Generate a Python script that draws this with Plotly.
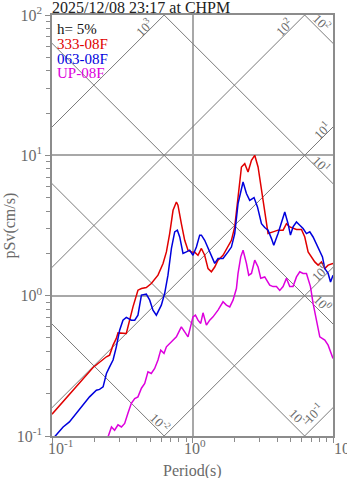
import math
import plotly.graph_objects as go

title_text = "2025/12/08 23:17 at CHPM"
damping_label = "h= 5%"
series_names = ["333-08F", "063-08F", "UP-08F"]
series_colors = ["#e00000", "#0000dd", "#dd00dd"]

red_T = [0.100, 0.196, 0.244, 0.257, 0.272, 0.287, 0.295, 0.320, 0.338, 0.377, 0.409, 0.433,
         0.469, 0.509, 0.568, 0.617, 0.652, 0.688, 0.727, 0.768, 0.788, 0.833, 0.880, 0.929,
         0.982, 1.037, 1.094, 1.157, 1.221, 1.290, 1.363, 1.439, 1.519, 1.649, 1.790, 1.892,
         1.998, 2.109, 2.230, 2.354, 2.485, 2.628, 2.773, 2.929, 3.096, 3.267, 3.450, 3.743,
         4.063, 4.413, 4.663, 4.922, 5.195, 5.495, 5.966, 6.297, 6.650, 7.028, 7.419, 7.834,
         8.281, 8.743, 9.233, 10.0]
red_S = [0.143, 0.308, 0.367, 0.377, 0.444, 0.496, 0.543, 0.543, 0.538, 0.832, 1.094, 1.125,
         1.144, 1.221, 1.40, 1.695, 2.05, 2.77, 4.06, 4.65, 4.41, 3.26, 2.48, 2.11,
         2.05, 2.04, 1.94, 2.17, 1.94, 1.56, 1.48, 1.60, 1.79, 1.94, 2.22, 2.48,
         3.09, 4.78, 8.26, 8.73, 7.60, 9.21, 10.0, 8.26, 5.63, 3.85, 2.77, 2.85,
         2.93, 2.93, 3.26, 3.09, 3.01, 2.96, 2.96, 2.62, 2.05, 1.89, 1.74, 1.65,
         1.74, 1.56, 1.65, 1.70]

blue_T = [0.100, 0.107, 0.120, 0.133, 0.149, 0.166, 0.185, 0.207, 0.218, 0.231, 0.244, 0.257,
          0.272, 0.287, 0.303, 0.320, 0.338, 0.367, 0.388, 0.409, 0.433, 0.469, 0.496, 0.523,
          0.553, 0.600, 0.634, 0.669, 0.708, 0.747, 0.780, 0.811, 0.856, 0.905, 0.955, 1.008,
          1.066, 1.125, 1.157, 1.221, 1.290, 1.363, 1.439, 1.519, 1.649, 1.790, 1.892, 1.998,
          2.109, 2.290, 2.420, 2.554, 2.741, 2.900, 3.096, 3.267, 3.450, 3.648, 3.787, 4.063,
          4.297, 4.537, 4.786, 4.979, 5.195, 5.495, 5.803, 6.124, 6.474, 6.835, 7.216, 7.628,
          8.054, 8.415, 8.743, 9.233, 9.601, 10.0]
blue_S = [0.094, 0.102, 0.116, 0.126, 0.145, 0.166, 0.190, 0.212, 0.215, 0.224, 0.279, 0.311,
          0.348, 0.432, 0.568, 0.669, 0.700, 0.669, 0.669, 0.726, 1.01, 1.025, 0.929, 0.789,
          0.726, 0.856, 1.04, 1.40, 2.17, 2.85, 2.93, 2.62, 2.00, 2.05, 2.11, 1.94,
          2.22, 2.70, 2.70, 2.48, 2.17, 1.94, 1.70, 1.84, 1.84, 2.05, 2.22, 2.77,
          4.53, 6.46, 5.34, 4.78, 5.00, 4.29, 3.26, 3.06, 2.93, 2.55, 2.29, 2.77,
          3.35, 3.95, 3.26, 2.70, 3.09, 3.35, 3.18, 3.01, 2.77, 2.85, 2.62, 2.35,
          2.11, 1.89, 1.56, 1.44, 1.25, 1.40]

mag_T = [0.250, 0.265, 0.279, 0.295, 0.312, 0.329, 0.347, 0.367, 0.388, 0.409, 0.433, 0.457,
         0.482, 0.509, 0.538, 0.568, 0.594, 0.627, 0.652, 0.708, 0.768, 0.811, 0.833, 0.880,
         0.929, 0.955, 1.008, 1.049, 1.094, 1.144, 1.188, 1.256, 1.326, 1.400, 1.519, 1.649,
         1.743, 1.841, 1.943, 2.054, 2.109, 2.205, 2.290, 2.420, 2.513, 2.628, 2.773, 2.929,
         3.061, 3.267, 3.546, 3.743, 3.959, 4.178, 4.413, 4.663, 4.922, 5.195, 5.495, 5.803,
         6.124, 6.474, 6.913, 7.216, 7.628, 8.054, 8.743, 9.233, 10.0]
mag_S = [0.098, 0.116, 0.110, 0.120, 0.116, 0.123, 0.145, 0.171, 0.185, 0.190, 0.219, 0.237,
         0.287, 0.279, 0.303, 0.348, 0.409, 0.388, 0.432, 0.469, 0.509, 0.568, 0.600, 0.552,
         0.509, 0.568, 0.706, 0.726, 0.669, 0.634, 0.755, 0.617, 0.669, 0.706, 0.789, 0.904,
         0.856, 0.832, 0.929, 1.125, 1.44, 1.89, 2.11, 1.70, 1.40, 1.44, 1.79, 1.60,
         1.33, 1.36, 1.19, 1.16, 1.16, 1.09, 1.16, 1.33, 1.16, 1.16, 1.36, 1.48,
         1.44, 1.44, 1.16, 0.880, 0.669, 0.509, 0.482, 0.444, 0.357]

# tripartite reference levels
disp_levels = [0.01, 0.1, 1, 10, 100]      # Sd (cm)
acc_levels = [0.1, 1, 10, 100, 1000]       # Sa (cm/s^2)
disp_labels = ["10<sup>-2</sup>", "10<sup>-1</sup>", "10<sup>0</sup>", "10<sup>1</sup>", "10<sup>2</sup>"]
acc_labels = ["10<sup>-1</sup>", "10<sup>0</sup>", "10<sup>1</sup>", "10<sup>2</sup>", "10<sup>3</sup>"]

x_ticks = [0.1, 1, 10]
x_tick_text = ["10<sup>-1</sup>", "10<sup>0</sup>", "10<sup>1</sup>"]
y_ticks = [0.1, 1, 10, 100]
y_tick_text = ["10<sup>-1</sup>", "10<sup>0</sup>", "10<sup>1</sup>", "10<sup>2</sup>"]
x_title = "Period(s)"
y_title = "pSv(cm/s)"

XMIN, XMAX = 0.1, 10.0
YMIN, YMAX = 0.1, 100.0

SERIF = "Liberation Serif, Times New Roman, serif"
GRAY_TXT = "#6a6a6a"
DIAG = "#7a7a7a"

fig = go.Figure()

two_pi = 2 * math.pi
T_ext = [0.01, 100.0]
for sd in disp_levels:
    fig.add_trace(go.Scatter(x=T_ext, y=[two_pi * sd / t for t in T_ext], mode="lines",
                             line=dict(color=DIAG, width=1), hoverinfo="skip", showlegend=False))
for sa in acc_levels:
    fig.add_trace(go.Scatter(x=T_ext, y=[sa * t / two_pi for t in T_ext], mode="lines",
                             line=dict(color=DIAG, width=1), hoverinfo="skip", showlegend=False))

for T, S, name, col in [(red_T, red_S, series_names[0], series_colors[0]),
                        (blue_T, blue_S, series_names[1], series_colors[1]),
                        (mag_T, mag_S, series_names[2], series_colors[2])]:
    fig.add_trace(go.Scatter(x=T, y=S, mode="lines", name=name,
                             line=dict(color=col, width=1.5), showlegend=False))

annotations = []
lx0, lx1 = math.log10(XMIN), math.log10(XMAX)
ly0, ly1 = math.log10(YMIN), math.log10(YMAX)

# label offsets (pixels) relative to the line end point
acc_off = [(-20, -5), (-13, -5), (-11, -3), (-21, -12), (-20, -12)]
disp_off = [(-4, 14), (-5, 18), (-10, 21), (-11, 20), (-11, 21)]

for sa, txt, (dx, dy) in zip(acc_levels, acc_labels, acc_off):
    c = math.log10(sa / two_pi)
    u = ly1 - c
    if u <= lx1:
        v = ly1
    else:
        u, v = lx1, c + lx1
    annotations.append(dict(x=u, y=v, xref="x", yref="y", text=txt, showarrow=False,
                            textangle=-45, xshift=dx, yshift=dy,
                            font=dict(family=SERIF, size=13, color=GRAY_TXT)))
for sd, txt, (dx, dy) in zip(disp_levels, disp_labels, disp_off):
    c = math.log10(two_pi * sd)
    v = c - lx1
    if v >= ly0:
        u = lx1
    else:
        u, v = c - ly0, ly0
    annotations.append(dict(x=u, y=v, xref="x", yref="y", text=txt, showarrow=False,
                            textangle=45, xshift=dx, yshift=dy,
                            font=dict(family=SERIF, size=13, color=GRAY_TXT)))

# x tick labels (drawn as text so they sit like the reference)
x_label_shift = [-6, -11, -1]
for t, txt, sh in zip(x_ticks, x_tick_text, x_label_shift):
    annotations.append(dict(x=math.log10(t), y=0, xref="x", yref="paper", xanchor="left", yanchor="top",
                            text=txt, showarrow=False, xshift=sh, yshift=1,
                            font=dict(family=SERIF, size=16, color=GRAY_TXT)))

# axis titles
annotations.append(dict(x=0.5, y=0, xref="paper", yref="paper", xanchor="center", yanchor="top",
                        text=x_title, showarrow=False, yshift=-24,
                        font=dict(family=SERIF, size=16, color=GRAY_TXT)))
annotations.append(dict(x=0, y=0.5, xref="paper", yref="paper", xanchor="center", yanchor="middle",
                        text=y_title, showarrow=False, xshift=-43, textangle=-90,
                        font=dict(family=SERIF, size=16, color=GRAY_TXT)))

# title
annotations.append(dict(x=0, y=1, xref="paper", yref="paper", xanchor="left", yanchor="bottom",
                        text=title_text, showarrow=False, xshift=-2, yshift=-3,
                        font=dict(family=SERIF, size=16, color="#222222")))
# legend-like texts
leg_texts = [damping_label] + series_names
leg_cols = ["#111111"] + series_colors
for i, (t, c) in enumerate(zip(leg_texts, leg_cols)):
    annotations.append(dict(x=0, y=1, xref="paper", yref="paper", xanchor="left", yanchor="middle",
                            text=t, showarrow=False, xshift=3, yshift=-14 - 14.8 * i,
                            font=dict(family=SERIF, size=15, color=c)))

axis_common = dict(type="log", showline=True, mirror=True, linecolor="#8c8c8c", linewidth=1.5,
                   showgrid=True, gridcolor="#a8a8a8", gridwidth=1.5, zeroline=False,
                   automargin=False,
                   ticks="outside", ticklen=5, tickcolor="#8c8c8c", tickwidth=1,
                   tickfont=dict(family=SERIF, size=16, color=GRAY_TXT))

minor_vals_x = [m * 10 ** e for e in (-1, 0) for m in range(2, 10)]
minor_vals_y = [m * 10 ** e for e in (-1, 0, 1) for m in range(2, 10)]

fig.update_layout(
    width=347, height=478,
    margin=dict(l=52, r=14, t=15, b=42),
    paper_bgcolor="white", plot_bgcolor="white",
    showlegend=False,
    annotations=annotations,
    xaxis=dict(axis_common, range=[lx0, lx1], tickmode="array", tickvals=x_ticks,
               showticklabels=False,
               minor=dict(tickmode="array", tickvals=minor_vals_x, ticks="outside", ticklen=4,
                          tickcolor="#8c8c8c", showgrid=False)),
    yaxis=dict(axis_common, range=[ly0, ly1], tickmode="array", tickvals=y_ticks, ticktext=y_tick_text,
               minor=dict(tickmode="array", tickvals=minor_vals_y, ticks="outside", ticklen=4,
                          tickcolor="#8c8c8c", showgrid=False)),
)

fig.write_html("out.html")
